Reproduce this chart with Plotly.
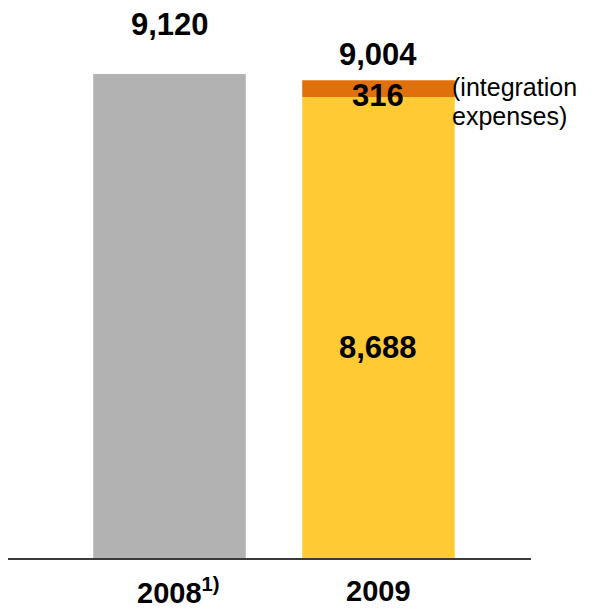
import plotly.graph_objects as go

categories = ["2008", "2009"]
base_values = [9120, 8688]
integration_values = [0, 316]
totals = [9120, 9004]
tick_labels = ["2008<sup>1)</sup>", "2009"]
note_lines = ["(integration", "expenses)"]
base_colors = ["#b2b2b2", "#ffca33"]
orange = "#e0700c"

fig = go.Figure()
fig.add_trace(go.Bar(x=[0, 1], y=base_values, marker=dict(color=base_colors, line=dict(width=0)),
                     width=0.73, hoverinfo="skip"))
fig.add_trace(go.Bar(x=[1], y=[integration_values[1]], base=[base_values[1]],
                     marker=dict(color=orange, line=dict(width=0)), width=0.73, hoverinfo="skip"))

FONT = "Liberation Sans, Arial, sans-serif"
bold = dict(family=FONT, size=31, color="black")
ann = []
ann.append(dict(x=0, y=totals[0], text="<b>9,120</b>", showarrow=False, yanchor="middle", yshift=50, font=bold))
ann.append(dict(x=1, y=totals[1], text="<b>9,004</b>", showarrow=False, yanchor="middle", yshift=26, font=bold))
ann.append(dict(x=1, y=base_values[1] + integration_values[1] / 2, text="<b>316</b>", showarrow=False,
                yanchor="middle", yshift=-7, font=bold))
ann.append(dict(x=1, y=base_values[1] / 2, text="<b>8,688</b>", showarrow=False, yanchor="middle",
                yshift=-20, font=bold))
for k, line in enumerate(note_lines):
    ann.append(dict(x=1.365, y=totals[1], text=line, showarrow=False, xanchor="left", yanchor="middle",
                    yshift=-7 - 29 * k, xshift=-4, borderpad=0,
                    font=dict(family=FONT, size=25, color="black")))
for i, t in enumerate(tick_labels):
    ann.append(dict(x=i, y=0, text="<b>" + t + "</b>", showarrow=False, yanchor="middle", yshift=-33,
                    xshift=(9 if i == 0 else 0),
                    font=dict(family=FONT, size=29, color="black")))

fig.update_layout(
    width=584, height=601,
    margin=dict(l=0, r=61, t=0, b=51),
    paper_bgcolor="white", plot_bgcolor="white",
    showlegend=False, barmode="overlay",
    annotations=ann,
    xaxis=dict(range=[-0.773, 1.730], showticklabels=False, showgrid=False, zeroline=False,
               showline=True, linecolor="#3a3a3a", linewidth=2, ticks=""),
    yaxis=dict(range=[0, 10364], visible=False, showgrid=False, zeroline=False),
)
fig.write_html("out.html")
